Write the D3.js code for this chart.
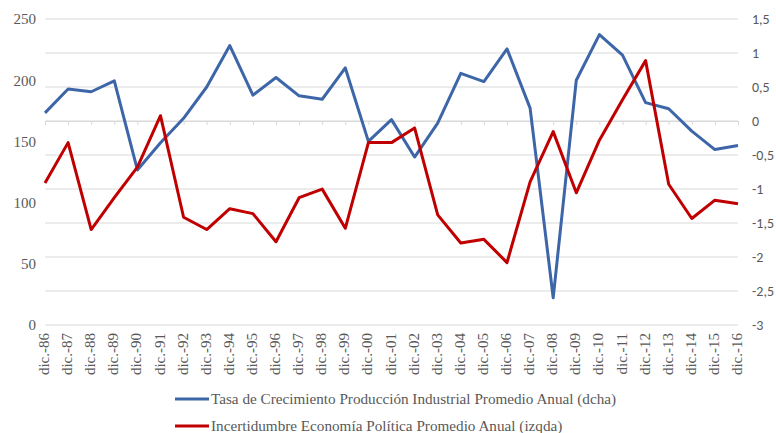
<!DOCTYPE html>
<html lang="es">
<head>
<meta charset="utf-8">
<title>Incertidumbre y Producción Industrial</title>
<script src="https://cdnjs.cloudflare.com/ajax/libs/d3/7.8.5/d3.min.js"></script>
<style>
  body { margin: 0; background: #fff; }
  svg { display: block; }
</style>
</head>
<body>
<div id="chart"></div>
<script>
// categories (dic.-86 ... dic.-16)
const years = ["86","87","88","89","90","91","92","93","94","95","96","97","98","99",
  "00","01","02","03","04","05","06","07","08","09","10","11","12","13","14","15","16"];
const categories = years.map(y => "dic.-" + y);

// Tasa de Crecimiento Producción Industrial (right axis)
const growth = [0.12, 0.47, 0.43, 0.59, -0.72, -0.32, 0.04, 0.50, 1.11, 0.38, 0.64,
  0.37, 0.32, 0.78, -0.30, 0.02, -0.53, -0.03, 0.70, 0.58, 1.06, 0.19, -2.60, 0.60,
  1.27, 0.97, 0.27, 0.18, -0.15, -0.42, -0.36];

// Incertidumbre Economía Política (left axis)
const uncertainty = [116, 149, 78, 104, 129, 171, 88, 78, 95, 91, 68, 104, 111, 79,
  149, 149, 161, 90, 67, 70, 51, 117, 158, 108, 151, 184, 216, 115, 87, 102, 99];

const leftTicks = [0, 50, 100, 150, 200, 250];
const rightTicks = [1.5, 1, 0.5, 0, -0.5, -1, -1.5, -2, -2.5, -3];

const seriesNames = [
  "Tasa de Crecimiento Producción Industrial Promedio Anual (dcha)",
  "Incertidumbre Economía Política Promedio Anual (izqda)"
];

const width = 776, height = 433;
const plotLeft = 45, plotRight = 738, plotTop = 19, plotBottom = 325;
const blue = "#3d66a8", red = "#c00000", grid = "#d9d9d9", textColor = "#595959";

const svg = d3.select("#chart").append("svg")
  .attr("width", width).attr("height", height);

const x = d3.scalePoint().domain(categories).range([plotLeft, plotRight]);
const yLeft = d3.scaleLinear().domain([0, 250]).range([plotBottom, plotTop]);
const yRight = d3.scaleLinear().domain([-3, 1.5]).range([plotBottom, plotTop]);

// gridlines follow the right axis
svg.append("g")
  .selectAll("line")
  .data(rightTicks)
  .join("line")
    .attr("x1", plotLeft).attr("x2", plotRight)
    .attr("y1", d => yRight(d)).attr("y2", d => yRight(d))
    .attr("stroke", grid).attr("stroke-width", 1);

// category axis sits at 0 of the right axis
const xAxis = svg.append("g")
  .attr("transform", `translate(0,${yRight(0)})`)
  .call(d3.axisBottom(x).tickSize(4).tickFormat(""));
xAxis.select(".domain").attr("stroke", grid);
xAxis.selectAll(".tick line").attr("stroke", grid);

// category labels below the plot, rotated
svg.append("g")
  .selectAll("text")
  .data(categories)
  .join("text")
    .attr("transform", d => `translate(${x(d) + 4},${plotBottom + 8}) rotate(-90)`)
    .attr("text-anchor", "end")
    .attr("font-family", "Liberation Serif, Times New Roman, serif")
    .attr("font-size", 15)
    .attr("fill", textColor)
    .text(d => d);

// left axis labels
const leftAxis = svg.append("g")
  .attr("transform", `translate(${plotLeft - 9},0)`)
  .call(d3.axisLeft(yLeft).tickValues(leftTicks).tickSize(0).tickPadding(0));
leftAxis.select(".domain").remove();
leftAxis.selectAll("text")
  .attr("font-family", "Liberation Serif, Times New Roman, serif")
  .attr("font-size", 15)
  .attr("fill", textColor);

// right axis labels
const rightAxis = svg.append("g")
  .attr("transform", `translate(${plotRight + 14},0)`)
  .call(d3.axisRight(yRight).tickValues(rightTicks).tickSize(0).tickPadding(0)
    .tickFormat(d => String(d).replace(".", ",")));
rightAxis.select(".domain").remove();
rightAxis.selectAll("text")
  .attr("font-family", "Carlito, Liberation Sans, Arial, sans-serif")
  .attr("font-size", 14)
  .attr("fill", textColor);

const lineRight = d3.line().x((d, i) => x(categories[i])).y(d => yRight(d));
const lineLeft = d3.line().x((d, i) => x(categories[i])).y(d => yLeft(d));

svg.append("path")
  .datum(growth)
  .attr("d", lineRight)
  .attr("fill", "none").attr("stroke", blue)
  .attr("stroke-width", 3).attr("stroke-linejoin", "round");

svg.append("path")
  .datum(uncertainty)
  .attr("d", lineLeft)
  .attr("fill", "none").attr("stroke", red)
  .attr("stroke-width", 3).attr("stroke-linejoin", "round");

// legend
const legend = svg.append("g")
  .selectAll("g")
  .data(seriesNames)
  .join("g")
    .attr("transform", (d, i) => `translate(175,${399 + i * 27})`);
legend.append("line")
  .attr("x1", 0).attr("x2", 34).attr("y1", 0).attr("y2", 0)
  .attr("stroke", (d, i) => i === 0 ? blue : red)
  .attr("stroke-width", 3);
legend.append("text")
  .attr("x", 36).attr("y", 5)
  .attr("font-family", "Liberation Serif, Times New Roman, serif")
  .attr("font-size", 15.2)
  .attr("fill", textColor)
  .text(d => d);
</script>
</body>
</html>
